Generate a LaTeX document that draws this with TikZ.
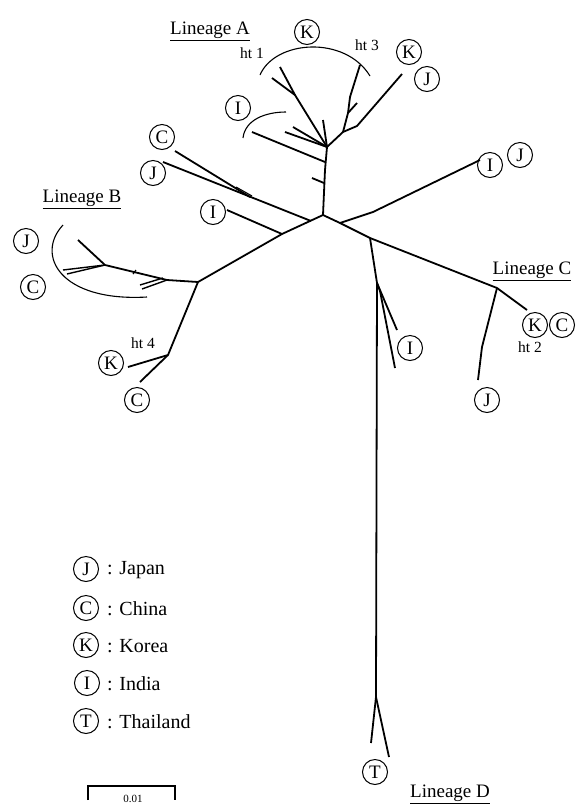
\documentclass[tikz,border=0pt]{standalone}
\usepackage{fontspec}
\setmainfont{Liberation Serif}
\usetikzlibrary{calc}
\begin{document}
\begin{tikzpicture}[x=1pt,y=-1pt,
  br/.style={line width=1.8pt,line join=round},
  thinarc/.style={line width=1.1pt},
  cty/.style={draw,circle,line width=1pt,inner sep=0pt,minimum size=25pt,font=\fontsize{19}{19}\selectfont},
  lin/.style={font=\fontsize{19}{19}\selectfont,inner sep=0pt},
  htl/.style={font=\fontsize{15.5}{15.5}\selectfont,inner sep=0pt},
  leg/.style={font=\fontsize{20}{20}\selectfont,anchor=west,inner sep=0pt}]
\useasboundingbox (0,0) rectangle (576,807);

% ---------- tree coordinates ----------
\coordinate (R) at (323,215);
\coordinate (A0) at (327,147);
\coordinate (A1) at (295,95);
\coordinate (A1a) at (280,67);
\coordinate (A1b) at (272,78);
\coordinate (A2) at (323,120);
\coordinate (A3) at (293,127);
\coordinate (A4) at (285,132);
\coordinate (A5) at (343,132);
\coordinate (A6) at (357,126);
\coordinate (A6a) at (402,74);
\coordinate (A7) at (348,113);
\coordinate (A7a) at (357,103);
\coordinate (A8) at (350,97);
\coordinate (A8a) at (360,65);
\coordinate (AI1) at (252,132);
\coordinate (AI2) at (325,162);
\coordinate (AT1) at (312,178);
\coordinate (AT2) at (324,183);
% left upper
\coordinate (CJ1) at (175,151);
\coordinate (CJ2) at (250,197);
\coordinate (JJ1) at (163,162);
\coordinate (JJ2) at (311,221);
\coordinate (DT1) at (236,187);
\coordinate (DT2) at (252,196);
\coordinate (IL1) at (227,210);
\coordinate (IL2) at (282,234);
% lineage B
\coordinate (L) at (198,282);
\coordinate (B1) at (167,280);
\coordinate (B2) at (105,265);
\coordinate (B2a) at (78,240);
\coordinate (B2b) at (63,270);
\coordinate (B2c) at (67,274);
\coordinate (B3a) at (140,285);
\coordinate (B3b) at (142,289);
\coordinate (B3c) at (163,278);
\coordinate (M) at (168,355);
\coordinate (Mk) at (128,367);
\coordinate (Mc) at (140,382);
% right
\coordinate (X) at (340,223);
\coordinate (X1) at (373,212);
\coordinate (X2) at (480,160);
\coordinate (Y) at (370,238);
\coordinate (Z) at (497,288);
\coordinate (Zk) at (527,310);
\coordinate (Zj1) at (482,347);
\coordinate (Zj2) at (478,380);
\coordinate (V) at (377,283);
\coordinate (V1) at (397,330);
\coordinate (V2) at (380,291);
\coordinate (V2a) at (395,368);
\coordinate (T0) at (376,697);
\coordinate (T1) at (371,743);
\coordinate (T2) at (389,757);

% ---------- branches ----------
\draw[br] (R) -- (325,170) -- (A0);
\draw[br] (A0) -- (A1) -- (A1a);
\draw[br] (A1) -- (A1b);
\draw[br] (A0) -- (A2);
\draw[br] (A0) -- (A3);
\draw[br] (A0) -- (A4);
\draw[br] (A0) -- (A5) -- (A6) -- (A6a);
\draw[br] (A5) -- (A7) -- (A8) -- (A8a);
\draw[br] (A7) -- (A7a);
\draw[br] (AI1) -- (AI2);
\draw[br] (AT1) -- (AT2);
\draw[br] (CJ1) -- (CJ2);
\draw[br] (JJ1) -- (JJ2);
\draw[line width=1.1pt] (DT1) -- (DT2);
\draw[br] (IL1) -- (IL2);
\draw[br] (R) -- (IL2) -- (L);
\draw[br] (L) -- (B1) -- (B2) -- (B2a);
\draw[line width=1.4pt] (B2) -- (B2b);
\draw[line width=1.4pt] (B2) -- (B2c);
\draw[line width=1.4pt] (B3a) -- (B3c);
\draw[line width=1.4pt] (B3b) -- (B1);
\draw[line width=1.2pt] (133,274) -- (136,270);
\draw[br] (L) -- (M) -- (Mk);
\draw[br] (M) -- (Mc);
\draw[br] (R) -- (X) -- (X1) -- (X2);
\draw[br] (X) -- (Y) -- (Z) -- (Zk);
\draw[br] (Z) -- (Zj1) -- (Zj2);
\draw[br] (Y) -- (V) -- (T0) -- (T1);
\draw[br] (T0) -- (T2);
\draw[br] (V) -- (V1);
\draw[br] (V) -- (V2) -- (V2a);

% ---------- arcs ----------
\draw[thinarc] (260,75) .. controls (275,40) and (345,35) .. (370,76);
\draw[thinarc] (243,138) .. controls (245,120) and (265,112) .. (286,112);
\draw[thinarc] (63,225) .. controls (35,255) and (60,302) .. (147,297);

% ---------- country circles ----------
\node[cty] (kA1) at (307,32) {K};
\node[cty] (kA2) at (409,52) {K};
\node[cty] (jA) at (427,79) {J};
\node[cty] (iA) at (238,108) {I};
\node[cty] (cA) at (162,137) {C};
\node[cty] (jA2) at (153,173) {J};
\node[cty] (iA2) at (213,212) {I};
\node[cty] (iR) at (490,165) {I};
\node[cty] (jR) at (520,155) {J};
\node[cty] (jB) at (26,241) {J};
\node[cty] (cB) at (33,287) {C};
\node[cty] (kB) at (111,363) {K};
\node[cty] (cB2) at (137,400) {C};
\node[cty] (kC) at (535,325) {K};
\node[cty] (cC) at (562,325) {C};
\node[cty] (iV) at (410,348) {I};
\node[cty] (jC) at (487,400) {J};
\node[cty] (tD) at (375,772) {T};

% ---------- labels ----------
\node[lin] (la) at (210,31) {\underline{Lineage A}};
\node[lin] (lb) at (82,199) {\underline{Lineage B}};
\node[lin] (lc) at (532,271) {\underline{Lineage C}};
\node[lin] (ld) at (450,794) {\underline{Lineage D}};
\node[htl] (h1) at (252,53) {ht 1};
\node[htl] (h3) at (367,45) {ht 3};
\node[htl] (h4) at (143,343) {ht 4};
\node[htl] (h2) at (530,347) {ht 2};

% ---------- legend ----------
\node[cty] (gJ) at (86,569) {J};
\node[cty] (gC) at (86,608) {C};
\node[cty] (gK) at (86,645) {K};
\node[cty] (gI) at (87,683) {I};
\node[cty] (gT) at (86,721) {T};
\node[leg] (tJ) at (107,570) {: Japan};
\node[leg] (tC) at (107,609) {: China};
\node[leg] (tK) at (107,646) {: Korea};
\node[leg] (tI) at (107,684) {: India};
\node[leg] (tT) at (107,722) {: Thailand};

% ---------- scale bar ----------
\coordinate (s1) at (88,786);
\coordinate (s2) at (175,786);
\draw[line width=1.5pt] ($(s1)+(0,14)$) -- (s1) -- (s2) -- ($(s2)+(0,14)$);
\node[font=\fontsize{11}{11}\selectfont,inner sep=0pt] (sl) at (133,799) {0.01};
\end{tikzpicture}
\end{document}
